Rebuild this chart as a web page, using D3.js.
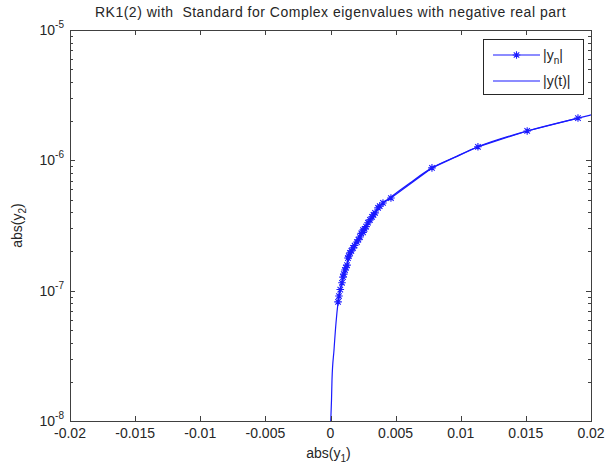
<!DOCTYPE html>
<head>
<meta charset="utf-8">
<script src="https://d3js.org/d3.v7.min.js"></script>
<style>
  body { margin: 0; background: #fff; }
  text { font-family: "Liberation Sans", Arial, sans-serif; font-size: 14px; fill: #262626; }
  text.title { letter-spacing: 0.5px; white-space: pre; }
  .axis path, .axis line { stroke: #404040; shape-rendering: crispEdges; }
  .axis text { display: none; }
</style>
</head>
<body>
<script>
const width = 606, height = 466;
const margin = {top: 30, right: 15, bottom: 45, left: 70};

const title = "RK1(2) with  Standard for Complex eigenvalues with negative real part";
const xTicks = [-0.02, -0.015, -0.01, -0.005, 0, 0.005, 0.01, 0.015, 0.02];
const xTickLabels = ["-0.02", "-0.015", "-0.01", "-0.005", "0", "0.005", "0.01", "0.015", "0.02"];
const yDecades = [1e-8, 1e-7, 1e-6, 1e-5];
const yDecadeExp = ["-8", "-7", "-6", "-5"];

// numerical solution |y_n| (abs(y1), abs(y2))
const numX = [0.0190, 0.0151, 0.01132, 0.00779, 0.00464, 0.00403, 0.00378, 0.00365, 0.00342,
              0.00330, 0.00319, 0.00303, 0.00288, 0.00250, 0.00273, 0.00262, 0.00226, 0.00214,
              0.00203, 0.00250, 0.00236, 0.00185, 0.00173, 0.00160, 0.00150, 0.00140, 0.00134,
              0.00127, 0.00118, 0.00111, 0.00102, 0.00096, 0.00088, 0.00075, 0.00065, 0.00058];
const numY = [2.11e-6, 1.68e-6, 1.27e-6, 8.75e-7, 5.14e-7, 4.71e-7, 4.45e-7, 4.32e-7, 3.95e-7,
              3.82e-7, 3.68e-7, 3.49e-7, 3.32e-7, 2.80e-7, 3.10e-7, 2.98e-7, 2.58e-7, 2.46e-7,
              2.36e-7, 2.92e-7, 2.75e-7, 2.22e-7, 2.13e-7, 2.02e-7, 1.95e-7, 1.84e-7, 1.78e-7,
              1.57e-7, 1.50e-7, 1.44e-7, 1.34e-7, 1.27e-7, 1.15e-7, 1.02e-7, 9.1e-8, 8.2e-8];

// exact solution |y(t)|
const exX = [0.00002, 0.000077, 0.000115, 0.000269, 0.000422, 0.000576, 0.000883, 0.00127,
             0.00173, 0.00226, 0.00303, 0.00395, 0.00464, 0.0061, 0.00779, 0.00956, 0.01132,
             0.0151, 0.0190, 0.0200];
const exY = [1.0e-8, 1.45e-8, 2.07e-8, 3.51e-8, 5.65e-8, 8.05e-8, 1.15e-7, 1.57e-7,
             2.13e-7, 2.68e-7, 3.49e-7, 4.63e-7, 5.24e-7, 6.71e-7, 8.75e-7, 1.06e-6, 1.27e-6,
             1.68e-6, 2.11e-6, 2.23e-6];

const lineColor = "#1a1aff";

const svg = d3.select("body").append("svg")
  .attr("width", width).attr("height", height);

const x = d3.scaleLinear().domain([-0.02, 0.02]).range([margin.left, width - margin.right]);
const y = d3.scaleLog().domain([1e-8, 1e-5]).range([height - margin.bottom, margin.top]);

const minorY = [];
yDecades.slice(0, -1).forEach(d => { for (let k = 2; k <= 9; k++) minorY.push(d * k); });

svg.append("defs").append("clipPath").attr("id", "clip")
  .append("rect")
  .attr("x", x(-0.02)).attr("y", y(1e-5))
  .attr("width", x(0.02) - x(-0.02)).attr("height", y(1e-8) - y(1e-5));

const plot = svg.append("g").attr("clip-path", "url(#clip)");

const exact = exX.map((v, i) => [v, exY[i]]);
const numeric = numX.map((v, i) => [v, numY[i]]);

plot.append("path").datum(exact)
  .attr("d", d3.line().x(d => x(d[0])).y(d => y(d[1])).curve(d3.curveMonotoneX))
  .attr("fill", "none").attr("stroke", lineColor).attr("stroke-width", 1.2);

plot.append("path").datum(numeric)
  .attr("d", d3.line().x(d => x(d[0])).y(d => y(d[1])))
  .attr("fill", "none").attr("stroke", lineColor).attr("stroke-width", 1.2);

function star(g, cx, cy, r) {
  const s = r * 0.72;
  const p = `M${cx - r},${cy}L${cx + r},${cy}M${cx},${cy - r}L${cx},${cy + r}` +
            `M${cx - s},${cy - s}L${cx + s},${cy + s}M${cx - s},${cy + s}L${cx + s},${cy - s}`;
  g.append("path").attr("d", p).attr("stroke", lineColor).attr("stroke-width", 1.1).attr("fill", "none");
}
numeric.forEach(d => star(plot, x(d[0]), y(d[1]), 3.8));

// axes (ticks inward, MATLAB box style)
const tk = 5;
svg.append("g").attr("class", "axis")
  .attr("transform", `translate(0,${y(1e-8)})`)
  .call(d3.axisBottom(x).tickValues(xTicks).tickSizeInner(-tk).tickSizeOuter(0));
svg.append("g").attr("class", "axis")
  .attr("transform", `translate(0,${y(1e-5)})`)
  .call(d3.axisTop(x).tickValues(xTicks).tickSizeInner(-tk).tickSizeOuter(0));
svg.append("g").attr("class", "axis")
  .attr("transform", `translate(${x(-0.02)},0)`)
  .call(d3.axisLeft(y).tickValues(yDecades).tickSizeInner(-tk).tickSizeOuter(0));
svg.append("g").attr("class", "axis")
  .attr("transform", `translate(${x(0.02)},0)`)
  .call(d3.axisRight(y).tickValues(yDecades).tickSizeInner(-tk).tickSizeOuter(0));
svg.append("g").attr("class", "axis")
  .attr("transform", `translate(${x(-0.02)},0)`)
  .call(d3.axisLeft(y).tickValues(minorY).tickSizeInner(-3).tickSizeOuter(0))
  .select(".domain").remove();
svg.append("g").attr("class", "axis")
  .attr("transform", `translate(${x(0.02)},0)`)
  .call(d3.axisRight(y).tickValues(minorY).tickSizeInner(-3).tickSizeOuter(0))
  .select(".domain").remove();

// tick labels
svg.selectAll("text.xtl").data(xTicks).enter().append("text")
  .attr("class", "xtl")
  .attr("x", d => x(d)).attr("y", y(1e-8) + 17)
  .attr("text-anchor", "middle")
  .text((d, i) => xTickLabels[i]);

const ytl = svg.selectAll("text.ytl").data(yDecades).enter().append("text")
  .attr("class", "ytl")
  .attr("x", x(-0.02) - 6).attr("y", d => y(d) + 5)
  .attr("text-anchor", "end");
ytl.append("tspan").text("10");
ytl.append("tspan").attr("dy", -7).style("font-size", "10px").text((d, i) => yDecadeExp[i]);

// title and axis labels
svg.append("text")
  .attr("class", "title")
  .attr("x", x(0)).attr("y", 17)
  .attr("text-anchor", "middle")
  .text(title);

const xl = svg.append("text")
  .attr("x", x(0) - 2).attr("y", 458)
  .attr("text-anchor", "middle");
xl.append("tspan").text("abs(y");
xl.append("tspan").attr("dy", 4).style("font-size", "10px").text("1");
xl.append("tspan").attr("dy", -4).text(")");

const yl = svg.append("text")
  .attr("transform", `translate(22,${(y(1e-8) + y(1e-5)) / 2}) rotate(-90)`)
  .attr("text-anchor", "middle");
yl.append("tspan").text("abs(y");
yl.append("tspan").attr("dy", 4).style("font-size", "10px").text("2");
yl.append("tspan").attr("dy", -4).text(")");

// legend
const lg = svg.append("g").attr("transform", "translate(483,39)");
lg.append("rect").attr("width", 100).attr("height", 55)
  .attr("fill", "#fff").attr("stroke", "#262626").attr("stroke-width", 1)
  .attr("shape-rendering", "crispEdges");
lg.append("line").attr("x1", 10).attr("x2", 57).attr("y1", 16).attr("y2", 16)
  .attr("stroke", lineColor).attr("stroke-width", 1.2);
star(lg, 33.5, 16, 3.8);
lg.append("line").attr("x1", 10).attr("x2", 57).attr("y1", 42).attr("y2", 42)
  .attr("stroke", lineColor).attr("stroke-width", 1.2);
const l1 = lg.append("text").attr("x", 60).attr("y", 21);
l1.append("tspan").text("|y");
l1.append("tspan").attr("dy", 4).style("font-size", "10px").text("n");
l1.append("tspan").attr("dy", -4).text("|");
lg.append("text").attr("x", 60).attr("y", 47).text("|y(t)|");
</script>
</body>
